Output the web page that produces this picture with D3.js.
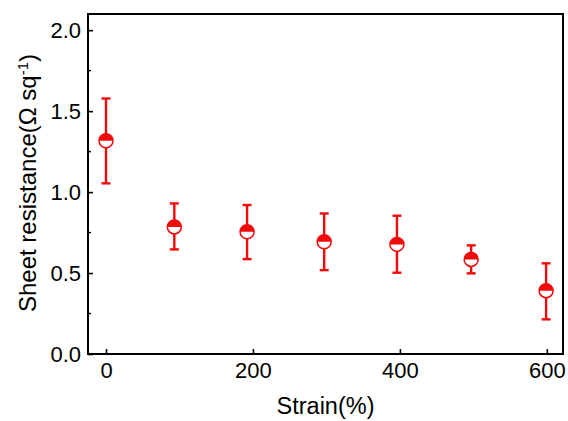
<!DOCTYPE html>
<html>
<head>
<meta charset="utf-8">
<script src="https://cdn.jsdelivr.net/npm/d3@7"></script>
<style>
  body { margin: 0; background: #fff; }
  text { font-family: "Liberation Sans", Arial, sans-serif; }
</style>
</head>
<body>
<svg id="chart" width="568" height="421"></svg>
<script>
// strain (%) and sheet resistance (ohm/sq)
const strain = [0, 93, 192, 297, 396, 497, 599];
const resistance = [1.317, 0.785, 0.755, 0.693, 0.677, 0.584, 0.391];
const errLow = [1.054, 0.646, 0.586, 0.518, 0.502, 0.498, 0.214];
const errHigh = [1.578, 0.93, 0.92, 0.868, 0.854, 0.671, 0.56];
const xTicks = [0, 200, 400, 600];
const yTicks = [0, 0.5, 1.0, 1.5, 2.0];
const yMinor = [0.25, 0.75, 1.25, 1.75];

const red = "#f00a0a";
const svg = d3.select("#chart");
const margin = { left: 88, right: 5, top: 14, bottom: 67 };
const W = 568, H = 421;

const x = d3.scaleLinear().domain([-24.5, 622]).range([margin.left, W - margin.right]);
const y = d3.scaleLinear().domain([0, 2.1]).range([H - margin.bottom, margin.top]);

const xAxis = d3.axisBottom(x).tickValues(xTicks).tickSize(-5).tickPadding(8).tickFormat(d3.format("d"));
const yAxis = d3.axisLeft(y).tickValues(yTicks).tickSize(-5).tickPadding(7).tickFormat(d3.format(".1f"));

const gx = svg.append("g").attr("transform", `translate(0,${H - margin.bottom})`).call(xAxis);
const gy = svg.append("g").attr("transform", `translate(${margin.left},0)`).call(yAxis);
[gx, gy].forEach(g => {
  g.select(".domain").remove();
  g.selectAll("line").attr("stroke", "#000").attr("stroke-width", 1.6);
  g.selectAll("text").attr("font-size", 22).attr("fill", "#000");
});

// minor ticks on y
svg.append("g").selectAll("line").data(yMinor).join("line")
  .attr("x1", margin.left).attr("x2", margin.left + 3)
  .attr("y1", d => y(d)).attr("y2", d => y(d))
  .attr("stroke", "#000").attr("stroke-width", 1.4);

// frame
svg.append("rect")
  .attr("x", margin.left).attr("y", margin.top)
  .attr("width", W - margin.left - margin.right)
  .attr("height", H - margin.top - margin.bottom)
  .attr("fill", "none").attr("stroke", "#000").attr("stroke-width", 2);

// error bars
const eb = svg.append("g").attr("stroke", red).attr("stroke-width", 2.4);
strain.forEach((s, i) => {
  const cx = x(s);
  eb.append("line").attr("x1", cx).attr("x2", cx).attr("y1", y(errLow[i])).attr("y2", y(errHigh[i]));
  eb.append("line").attr("x1", cx - 4.5).attr("x2", cx + 4.5).attr("y1", y(errLow[i])).attr("y2", y(errLow[i]));
  eb.append("line").attr("x1", cx - 4.5).attr("x2", cx + 4.5).attr("y1", y(errHigh[i])).attr("y2", y(errHigh[i]));
});

// half-filled circle markers
const r = 7;
const pts = svg.append("g");
strain.forEach((s, i) => {
  const cx = x(s), cy = y(resistance[i]);
  pts.append("circle").attr("cx", cx).attr("cy", cy).attr("r", r).attr("fill", "#fff");
  pts.append("path")
    .attr("d", `M${cx - r},${cy} A${r},${r} 0 0 1 ${cx + r},${cy} Z`)
    .attr("fill", red);
  pts.append("circle").attr("cx", cx).attr("cy", cy).attr("r", r)
    .attr("fill", "none").attr("stroke", red).attr("stroke-width", 1.5);
});

// axis titles
svg.append("text")
  .attr("x", (margin.left + W - margin.right) / 2).attr("y", 414)
  .attr("text-anchor", "middle").attr("font-size", 23.5).text("Strain(%)");

const yt = svg.append("text")
  .attr("transform", `translate(36,${(margin.top + H - margin.bottom) / 2 - 1}) rotate(-90)`)
  .attr("text-anchor", "middle").attr("font-size", 24);
yt.append("tspan").text("Sheet resistance(\u03A9 sq");
yt.append("tspan").attr("dy", -8).attr("font-size", 15).text("-1");
yt.append("tspan").attr("dy", 8).text(")");
</script>
</body>
</html>
